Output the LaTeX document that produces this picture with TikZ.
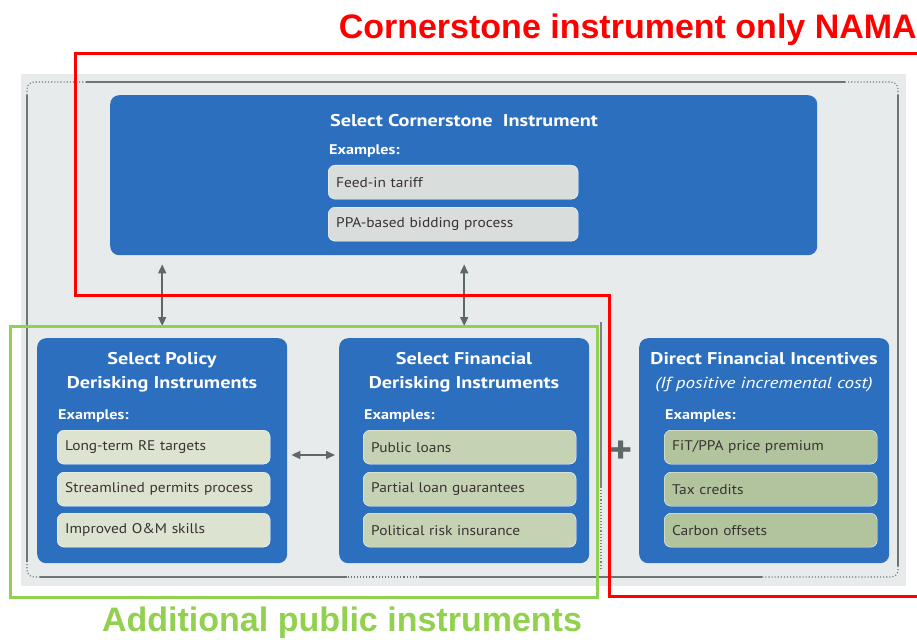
\documentclass[tikz,border=0pt]{standalone}
\usepackage{fontspec}
\setmainfont{PT Sans}[FakeStretch=1.1]
\newfontfamily\titlefont{PT Sans}[FakeStretch=1.19]
\newfontfamily\exfont{PT Sans}[FakeStretch=1.15]
\newfontfamily\arialfont{Liberation Sans}
\usetikzlibrary{arrows.meta}
\definecolor{boxblue}{HTML}{2C6FBF}
\definecolor{bggray}{HTML}{E8EBEC}
\definecolor{framegray}{HTML}{6E7575}
\definecolor{arrowgray}{HTML}{5E6868}
\definecolor{itemAcol}{HTML}{D9DDDC}
\definecolor{itemBcol}{HTML}{DCE3D0}
\definecolor{itemCcol}{HTML}{C5D3B4}
\definecolor{itemDcol}{HTML}{B1C49D}
\definecolor{txtdark}{HTML}{3A3232}
\definecolor{nred}{HTML}{FF0000}
\definecolor{ngreen}{HTML}{92D050}
\tikzset{
  bluebox/.style={fill=boxblue, rounded corners=9pt, anchor=north west, inner sep=0pt},
  titletext/.style={text=white, font=\titlefont\fontsize{17}{24}\selectfont\bfseries, align=center, inner sep=0pt},
  extext/.style={text=white, font=\exfont\fontsize{14}{16}\selectfont\bfseries, anchor=west, inner sep=0pt},
  itembox/.style={rounded corners=7pt, anchor=north west, minimum height=34pt, text width=197pt,
    inner xsep=8pt, inner ysep=0pt, align=left, text=txtdark, font=\fontsize{14}{16}\selectfont,
    draw=white, line width=0.4pt},
  framesolid/.style={draw=framegray, line width=1.1pt},
  framedot/.style={draw=framegray, line width=1.1pt, dotted, rounded corners=7pt},
  dblarrow/.style={draw=arrowgray, line width=1.6pt, {Triangle[length=9pt,width=8pt]}-{Triangle[length=9pt,width=8pt]}},
  redline/.style={draw=nred, line width=3pt},
  greenline/.style={draw=ngreen, line width=3pt},
}
\begin{document}
\begin{tikzpicture}[x=1pt,y=-1pt]
\useasboundingbox (0,0) rectangle (917,639);
% background and frame
\fill[bggray] (21,74) rectangle (906,586);
\draw[framedot] (27,95) -- (27,82) -- (86,82);
\draw[framesolid] (86,82) -- (845,82);
\draw[framedot] (845,82) -- (898,82) -- (898,95);
\draw[framesolid] (898,95) -- (898,566);
\draw[framedot] (898,566) -- (898,577) -- (762,577);
\draw[framesolid] (762,577) -- (420,577);
\draw[framedot] (420,577) -- (347,577);
\draw[framesolid] (347,577) -- (40,577);
\draw[framedot] (40,577) -- (27,577) -- (27,562);
\draw[framesolid] (27,562) -- (27,95);
\draw[framesolid, draw=gray] (601,322) -- (601,487);
\draw[framedot, draw=gray] (601,487) -- (601,568);

% top box
\node[bluebox, minimum width=707pt, minimum height=160pt] (corner) at (110,95) {};
\node[titletext] (cortitle) at (464,121) {Select Cornerstone\ \ Instrument};
\node[extext] (corex) at (329,151) {Examples:};
\node[itembox, fill=itemAcol, text width=234pt] (cor1) at (328,165) {Feed-in tariff};
\node[itembox, fill=itemAcol, text width=234pt] (cor2) at (328,207) {PPA-based bidding process};

% policy box
\node[bluebox, minimum width=250pt, minimum height=225pt] (pol) at (37,338) {};
\node[titletext] (poltitle) at (162,372) {Select Policy\\Derisking Instruments};
\node[extext] (polex) at (58,416) {Examples:};
\node[itembox, fill=itemBcol] (pol1) at (57,430) {Long-term RE targets};
\node[itembox, fill=itemBcol] (pol2) at (57,472) {Streamlined permits process};
\node[itembox, fill=itemBcol] (pol3) at (57,513) {Improved O\&M skills};

% financial box
\node[bluebox, minimum width=250pt, minimum height=225pt] (fin) at (339,338) {};
\node[titletext] (fintitle) at (464,372) {Select Financial\\Derisking Instruments};
\node[extext] (finex) at (364,416) {Examples:};
\node[itembox, fill=itemCcol] (fin1) at (363,430) {Public loans};
\node[itembox, fill=itemCcol] (fin2) at (363,472) {Partial loan guarantees};
\node[itembox, fill=itemCcol] (fin3) at (363,513) {Political risk insurance};

% direct box
\node[bluebox, minimum width=250pt, minimum height=225pt] (dir) at (639,338) {};
\node[titletext] (dirtitle) at (764,372) {Direct Financial Incentives\\{\mdseries\itshape\fontsize{16}{24}\selectfont (If positive incremental cost)}};
\node[extext] (direx) at (665,416) {Examples:};
\node[itembox, fill=itemDcol] (dir1) at (664,430) {FiT/PPA price premium};
\node[itembox, fill=itemDcol] (dir2) at (664,472) {Tax credits};
\node[itembox, fill=itemDcol] (dir3) at (664,513) {Carbon offsets};

% plus
\node[text=arrowgray, font=\fontsize{40}{40}\selectfont\bfseries, inner sep=0pt] (plus) at (621,452) {+};

% arrows
\coordinate (harr) at (0,455);
\draw[dblarrow, shorten <=9pt, shorten >=12pt] (pol.north |- corner.south) -- (pol.north);
\draw[dblarrow, shorten <=9pt, shorten >=12pt] (fin.north |- corner.south) -- (fin.north);
\draw[dblarrow, shorten <=4pt, shorten >=4pt] (pol.east |- harr) -- (fin.west |- harr);

% annotations
\draw[greenline] (10,326) rectangle (597,597);
\draw[redline] (917,54) -- (75,54) -- (75,295) -- (609,295) -- (609,596) -- (917,596);
\node[text=nred, font=\arialfont\fontsize{34}{34}\selectfont\bfseries, anchor=east, inner sep=0pt] (redtitle) at (917,30) {Cornerstone instrument only NAMA};
\node[text=ngreen, font=\arialfont\fontsize{34}{34}\selectfont\bfseries, inner sep=0pt] (greentitle) at (342,623) {Additional public instruments};
\end{tikzpicture}
\end{document}
